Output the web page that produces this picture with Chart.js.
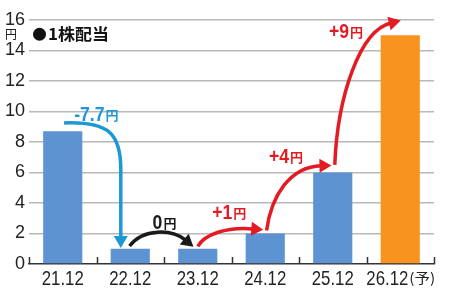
<!DOCTYPE html>
<html>
<head>
<meta charset="utf-8">
<script src="https://cdn.jsdelivr.net/npm/chart.js@4/dist/chart.umd.min.js"></script>
<style>
html,body{margin:0;padding:0;background:#fff;}
canvas{display:block;}
</style>
</head>
<body>
<canvas id="c" width="450" height="294"></canvas>
<script>
// ---- data ----
const categories = ["21.12", "22.12", "23.12", "24.12", "25.12", "26.12"];
const forecastSuffix = ["", "", "", "", "", "(予)"];
const dividends = [8.7, 1, 1, 2, 6, 15];
const isForecast = [false, false, false, false, false, true];
const yTicks = [0, 2, 4, 6, 8, 10, 12, 14, 16];
const legendText = "1株配当";
const unitText = "円";
const changeLabels = ["-7.7", "0", "+1", "+4", "+9"];

// arrows in data space: [categoryIndex, value] points (start, cp1, cp2, end of curve[, end of straight shaft])
const arrowColors = ["#1b98d5", "#1a1a1a", "#e31b23", "#e31b23", "#e31b23"];
const arrowPaths = [
  [[0.02, 9.25], [0.70, 9.35], [0.86, 8.5], [0.86, 6.2], [0.86, 1.72]],
  [[0.99, 1.18], [1.19, 2.35], [1.62, 2.3], [1.82, 1.56]],
  [[2.0, 1.15], [2.1, 1.95], [2.43, 2.45], [2.82, 2.3]],
  [[3.02, 2.2], [3.09, 4.5], [3.37, 6.4], [3.83, 6.45]],
  [[4.03, 6.5], [4.07, 11.0], [4.40, 15.3], [4.86, 15.8]]
];
const labelPos = [[0.49, 9.84], [1.5, 2.75], [2.46, 3.4], [3.3, 7.1], [4.19, 15.3]];

const FONT_NUM = "'Liberation Sans', Arial, sans-serif";
const FONT_JP = "'Noto Sans CJK JP', 'Noto Sans', sans-serif";

function textW(ctx, t, font, sx) { ctx.font = font; return ctx.measureText(t).width * sx; }
function drawT(ctx, t, x, y, font, sx) {
  ctx.save();
  ctx.font = font;
  ctx.translate(x, y);
  ctx.scale(sx, 1);
  ctx.textAlign = 'left';
  ctx.fillText(t, 0, 0);
  ctx.restore();
}

const overlay = {
  id: 'overlay',
  afterDraw(chart) {
    const ctx = chart.ctx;
    const xs = chart.scales.x, ys = chart.scales.y;
    const area = chart.chartArea;
    const n = categories.length;
    const cw = (area.right - area.left) / n;
    const P = (p) => [xs.getPixelForValue(p[0]), ys.getPixelForValue(p[1])];
    ctx.save();
    // x boundary ticks
    ctx.strokeStyle = '#333';
    ctx.lineWidth = 1.5;
    for (let i = 0; i <= n; i++) {
      const x = Math.round(area.left + i * cw) + 0.5;
      ctx.beginPath();
      ctx.moveTo(x, area.bottom - 7);
      ctx.lineTo(x, area.bottom);
      ctx.stroke();
    }
    // x labels
    ctx.fillStyle = '#222';
    ctx.textBaseline = 'middle';
    const fx = '21px ' + FONT_NUM, fs = '14px ' + FONT_JP;
    for (let i = 0; i < n; i++) {
      const cx = xs.getPixelForValue(i);
      const w1 = textW(ctx, categories[i], fx, 0.8);
      const w2 = forecastSuffix[i] ? textW(ctx, forecastSuffix[i], fs, 1.1) : 0;
      const x0 = cx - (w1 + w2) / 2;
      drawT(ctx, categories[i], x0, area.bottom + 15, fx, 0.8);
      if (forecastSuffix[i]) drawT(ctx, forecastSuffix[i], x0 + w1 + 1, area.bottom + 14, fs, 1.1);
    }
    // unit under top label
    ctx.font = '12px ' + FONT_JP;
    ctx.textAlign = 'center';
    ctx.fillStyle = '#222';
    ctx.fillText(unitText, 11, ys.getPixelForValue(16) + 14);
    // legend
    ctx.fillStyle = '#111';
    ctx.beginPath();
    ctx.arc(area.left + 10.5, ys.getPixelForValue(15) - 1, 6.5, 0, Math.PI * 2);
    ctx.fill();
    ctx.font = 'bold 16px ' + FONT_JP;
    ctx.textAlign = 'left';
    drawT(ctx, legendText, area.left + 19, ys.getPixelForValue(15) - 1, 'bold 16px ' + FONT_JP, 1.06);

    // arrows
    arrowPaths.forEach((path, k) => {
      const pts = path.map(P);
      ctx.strokeStyle = arrowColors[k];
      ctx.fillStyle = arrowColors[k];
      ctx.lineWidth = 3.5;
      ctx.lineCap = 'butt';
      ctx.beginPath();
      ctx.moveTo(pts[0][0], pts[0][1]);
      ctx.bezierCurveTo(pts[1][0], pts[1][1], pts[2][0], pts[2][1], pts[3][0], pts[3][1]);
      let prev = pts[2], end = pts[3];
      if (pts.length > 4) {
        ctx.lineTo(pts[4][0], pts[4][1]);
        prev = pts[3]; end = pts[4];
      }
      ctx.stroke();
      let dx = end[0] - prev[0], dy = end[1] - prev[1];
      const L = Math.hypot(dx, dy); dx /= L; dy /= L;
      const hl = 12, hw = 7;
      const tip = [end[0] + dx * hl * 0.85, end[1] + dy * hl * 0.85];
      const bx = tip[0] - dx * hl, by = tip[1] - dy * hl;
      ctx.beginPath();
      ctx.moveTo(tip[0], tip[1]);
      ctx.lineTo(bx - dy * hw, by + dx * hw);
      ctx.lineTo(bx + dy * hw, by - dx * hw);
      ctx.closePath();
      ctx.fill();
    });

    // change labels
    ctx.textBaseline = 'alphabetic';
    const fn = 'bold 20px ' + FONT_NUM, fu = 'bold 13px ' + FONT_JP;
    changeLabels.forEach((t, k) => {
      const p = P(labelPos[k]);
      ctx.fillStyle = arrowColors[k];
      const w1 = textW(ctx, t, fn, 0.88);
      const w2 = textW(ctx, unitText, fu, 1);
      const x0 = p[0] - (w1 + w2) / 2;
      drawT(ctx, t, x0, p[1] + 7, fn, 0.88);
      drawT(ctx, unitText, x0 + w1 + 1, p[1] + 6, fu, 1);
    });
    ctx.restore();
  }
};

new Chart(document.getElementById('c'), {
  type: 'bar',
  data: {
    labels: categories,
    datasets: [{
      data: dividends,
      backgroundColor: isForecast.map(f => f ? '#f7931e' : '#5c93d0'),
      borderWidth: 0,
      barPercentage: 0.58,
      categoryPercentage: 1
    }]
  },
  options: {
    responsive: false,
    animation: false,
    devicePixelRatio: 1,
    layout: { padding: { top: 20, right: 16, left: 0, bottom: 0 } },
    plugins: { legend: { display: false }, tooltip: { enabled: false } },
    scales: {
      x: {
        grid: { display: false },
        border: { display: true, color: '#333', width: 1.5 },
        ticks: { display: false },
        afterFit(s) { s.height = 30; }
      },
      y: {
        min: 0, max: 16,
        afterBuildTicks(s) { s.ticks = yTicks.map(v => ({ value: v })); },
        ticks: { color: '#222', font: { size: 18, family: FONT_NUM }, padding: 4 },
        grid: {
          drawTicks: false,
          lineWidth: 1.5,
          color: (c) => c.tick && c.tick.value === 0 ? 'rgba(0,0,0,0)' : '#b8b8b8'
        },
        border: { display: false },
        afterFit(s) { s.width = 29; }
      }
    }
  },
  plugins: [overlay]
});
</script>
</body>
</html>
